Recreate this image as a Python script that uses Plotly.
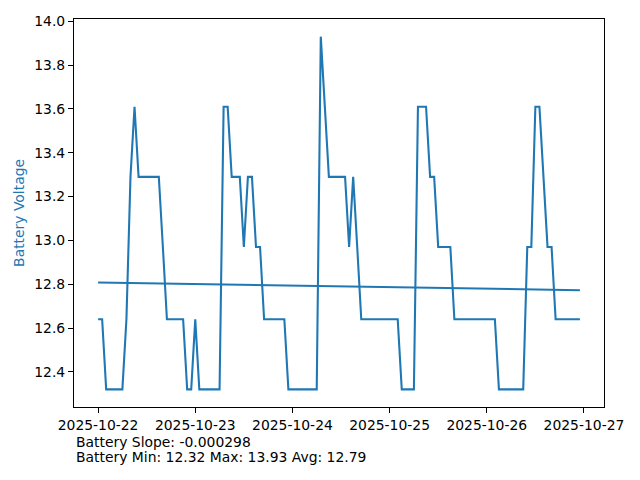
import numpy as np
import pandas as pd
import plotly.graph_objects as go

# Hourly battery voltage readings starting 2025-10-22 00:00
start = "2025-10-22 00:00"
voltage = [
    12.64, 12.64, 12.32, 12.32, 12.32, 12.32, 12.32, 12.64, 13.29, 13.61,
    13.29, 13.29, 13.29, 13.29, 13.29, 13.29, 12.97, 12.64, 12.64, 12.64,
    12.64, 12.64, 12.32, 12.32, 12.64, 12.32, 12.32, 12.32, 12.32, 12.32,
    12.32, 13.61, 13.61, 13.29, 13.29, 13.29, 12.97, 13.29, 13.29, 12.97,
    12.97, 12.64, 12.64, 12.64, 12.64, 12.64, 12.64, 12.32, 12.32, 12.32,
    12.32, 12.32, 12.32, 12.32, 12.32, 13.93, 13.61, 13.29, 13.29, 13.29,
    13.29, 13.29, 12.97, 13.29, 12.97, 12.64, 12.64, 12.64, 12.64, 12.64,
    12.64, 12.64, 12.64, 12.64, 12.64, 12.32, 12.32, 12.32, 12.32, 13.61,
    13.61, 13.61, 13.29, 13.29, 12.97, 12.97, 12.97, 12.97, 12.64, 12.64,
    12.64, 12.64, 12.64, 12.64, 12.64, 12.64, 12.64, 12.64, 12.64, 12.32,
    12.32, 12.32, 12.32, 12.32, 12.32, 12.32, 12.97, 12.97, 13.61, 13.61,
    13.29, 12.97, 12.97, 12.64, 12.64, 12.64, 12.64, 12.64, 12.64, 12.64,
]
tick_labels = ["2025-10-22", "2025-10-23", "2025-10-24", "2025-10-25", "2025-10-26", "2025-10-27"]
slope_text = "Battery Slope: -0.000298"
stats_text = "Battery Min: 12.32 Max: 13.93 Avg: 12.79"

times = pd.date_range(start, periods=len(voltage), freq="h")
hours = np.arange(len(voltage), dtype=float)
m, b = np.polyfit(hours, np.array(voltage), 1)
trend = m * hours + b

BLUE = "#1f77b4"
FONT = "DejaVu Sans"

fig = go.Figure()
fig.add_trace(go.Scatter(x=times, y=voltage, mode="lines",
                         line=dict(color=BLUE, width=2.08)))
fig.add_trace(go.Scatter(x=[times[0], times[-1]], y=[trend[0], trend[-1]], mode="lines",
                         line=dict(color=BLUE, width=2.08)))

span = times[-1] - times[0]
xr = [times[0] - span * 0.05, times[-1] + span * 0.05]
vmin, vmax = min(voltage), max(voltage)
yr = [vmin - (vmax - vmin) * 0.05, vmax + (vmax - vmin) * 0.05]

axis_common = dict(showline=True, mirror=True, linecolor="black", linewidth=1.1,
                   ticks="outside", ticklen=5, tickwidth=1.1, tickcolor="black",
                   showgrid=False, zeroline=False, automargin=False,
                   tickfont=dict(family=FONT, size=13.9, color="black"))

# page body has ~8px default margin; compensate so the plot lands where the reference's is
fig.update_layout(
    width=640, height=480,
    margin=dict(l=66, r=44, t=11, b=81, autoexpand=False),
    paper_bgcolor="white", plot_bgcolor="white",
    showlegend=False,
    font=dict(family=FONT, size=13.9, color="black"),
    xaxis=dict(range=xr, tickvals=pd.to_datetime(tick_labels), ticktext=tick_labels, **axis_common),
    yaxis=dict(range=yr, tickmode="linear", tick0=12.4, dtick=0.2, tickformat=".1f", **axis_common),
)

fig.add_annotation(text="Battery Voltage", xref="paper", yref="paper", x=-0.104, y=0.5,
                   textangle=-90, showarrow=False, xanchor="center", yanchor="middle",
                   font=dict(family=FONT, size=13.9, color=BLUE))
fig.add_annotation(text=slope_text, xref="paper", yref="paper", x=0.0, y=-0.0902,
                   showarrow=False, xanchor="left", yanchor="middle",
                   font=dict(family=FONT, size=13.9, color="black"))
fig.add_annotation(text=stats_text, xref="paper", yref="paper", x=0.0, y=-0.1289,
                   showarrow=False, xanchor="left", yanchor="middle",
                   font=dict(family=FONT, size=13.9, color="black"))

fig.write_html("out.html")
